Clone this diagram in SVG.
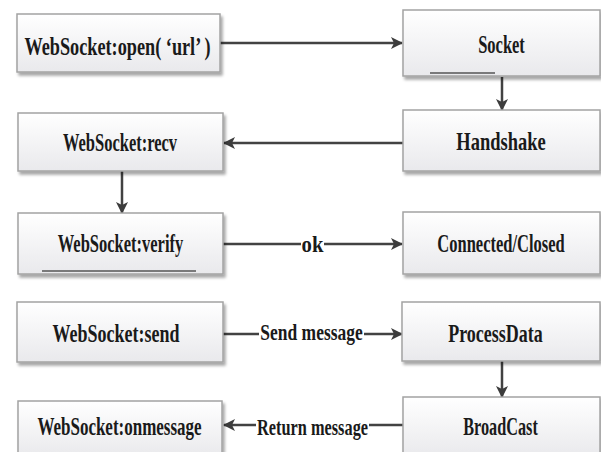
<svg xmlns="http://www.w3.org/2000/svg" width="601" height="452" viewBox="0 0 601 452">
<defs>
<linearGradient id="g" x1="0" y1="0" x2="0" y2="1">
<stop offset="0" stop-color="#ffffff"/>
<stop offset="1" stop-color="#e9e9ec"/>
</linearGradient>
<filter id="sh" x="-5%" y="-10%" width="112%" height="130%">
<feGaussianBlur in="SourceAlpha" stdDeviation="1.5"/>
<feOffset dx="1.5" dy="2.5" result="b"/>
<feComponentTransfer><feFuncA type="linear" slope="0.35"/></feComponentTransfer>
<feMerge><feMergeNode/><feMergeNode in="SourceGraphic"/></feMerge>
</filter>
<marker id="ah" markerWidth="12" markerHeight="12" refX="11" refY="6" orient="auto" markerUnits="userSpaceOnUse">
<path d="M0,0 L12,6 L0,12 L3,6 Z" fill="#3c3c3c"/>
</marker>
<style>
.box{fill:url(#g);stroke:#a3a3a3;stroke-width:1.5;filter:url(#sh)}
.t{font-family:"Liberation Serif","Times New Roman",serif;font-weight:bold;font-size:25px;fill:#1a1a1a;text-anchor:middle}
.l{font-family:"Liberation Serif","Times New Roman",serif;font-weight:bold;font-size:23px;fill:#1a1a1a;text-anchor:middle}
.c{stroke:#424242;stroke-width:2.5;fill:none}
.a{marker-end:url(#ah)}
</style>
</defs>
<rect width="601" height="452" fill="#ffffff"/>

<g id="connectors">
<line class="c a" x1="220" y1="43" x2="402" y2="43"/>
<line class="c a" x1="502" y1="77" x2="502" y2="110"/>
<line class="c a" x1="403" y1="143" x2="224" y2="143"/>
<line class="c a" x1="122" y1="171" x2="122" y2="213"/>
<line class="c" x1="223" y1="244" x2="301" y2="244"/>
<line class="c a" x1="324" y1="244" x2="402" y2="244"/>
<line class="c" x1="223" y1="334" x2="259" y2="334"/>
<line class="c a" x1="364" y1="334" x2="402" y2="334"/>
<line class="c a" x1="502" y1="361" x2="502" y2="397"/>
<line class="c" x1="403" y1="425" x2="369" y2="425"/>
<line class="c a" x1="256" y1="425" x2="224" y2="425"/>
<text class="l" transform="translate(312.5,252) scale(0.9,1)">ok</text>
<text class="l" transform="translate(311.5,340) scale(0.76,1)">Send message</text>
<text class="l" transform="translate(312.5,435) scale(0.71,1)">Return message</text>
</g>

<g id="open">
<rect class="box" x="17" y="14" width="203" height="58"/>
<text class="t" transform="translate(117.5,55) scale(0.73,1)">WebSocket:open( ‘url’ )</text>
</g>
<g id="socket">
<rect class="box" x="403" y="10" width="197" height="66"/>
<text class="t" transform="translate(501.5,53) scale(0.66,1)">Socket</text>
<line x1="430" y1="73" x2="495" y2="73" stroke="#555" stroke-width="1.5"/>
</g>
<g id="handshake">
<rect class="box" x="403" y="110" width="197" height="61"/>
<text class="t" transform="translate(501,150) scale(0.74,1)">Handshake</text>
</g>
<g id="recv">
<rect class="box" x="18" y="113" width="205" height="58"/>
<text class="t" transform="translate(120,151) scale(0.66,1)">WebSocket:recv</text>
</g>
<g id="verify">
<rect class="box" x="18" y="213" width="205" height="61"/>
<text class="t" transform="translate(120.5,252) scale(0.66,1)">WebSocket:verify</text>
<line x1="42" y1="271" x2="196" y2="271" stroke="#555" stroke-width="1.5"/>
</g>
<g id="connected">
<rect class="box" x="403" y="212" width="197" height="62"/>
<text class="t" transform="translate(501,252) scale(0.66,1)">Connected/Closed</text>
</g>
<g id="send">
<rect class="box" x="17" y="302" width="206" height="60"/>
<text class="t" transform="translate(116,342) scale(0.72,1)">WebSocket:send</text>
</g>
<g id="processdata">
<rect class="box" x="402" y="302" width="198" height="59"/>
<text class="t" transform="translate(495.5,342) scale(0.72,1)">ProcessData</text>
</g>
<g id="broadcast">
<rect class="box" x="403" y="397" width="197" height="60"/>
<text class="t" transform="translate(500.5,435) scale(0.65,1)">BroadCast</text>
</g>
<g id="onmessage">
<rect class="box" x="18" y="401" width="204" height="56"/>
<text class="t" transform="translate(119.5,435) scale(0.68,1)">WebSocket:onmessage</text>
</g>
</svg>
